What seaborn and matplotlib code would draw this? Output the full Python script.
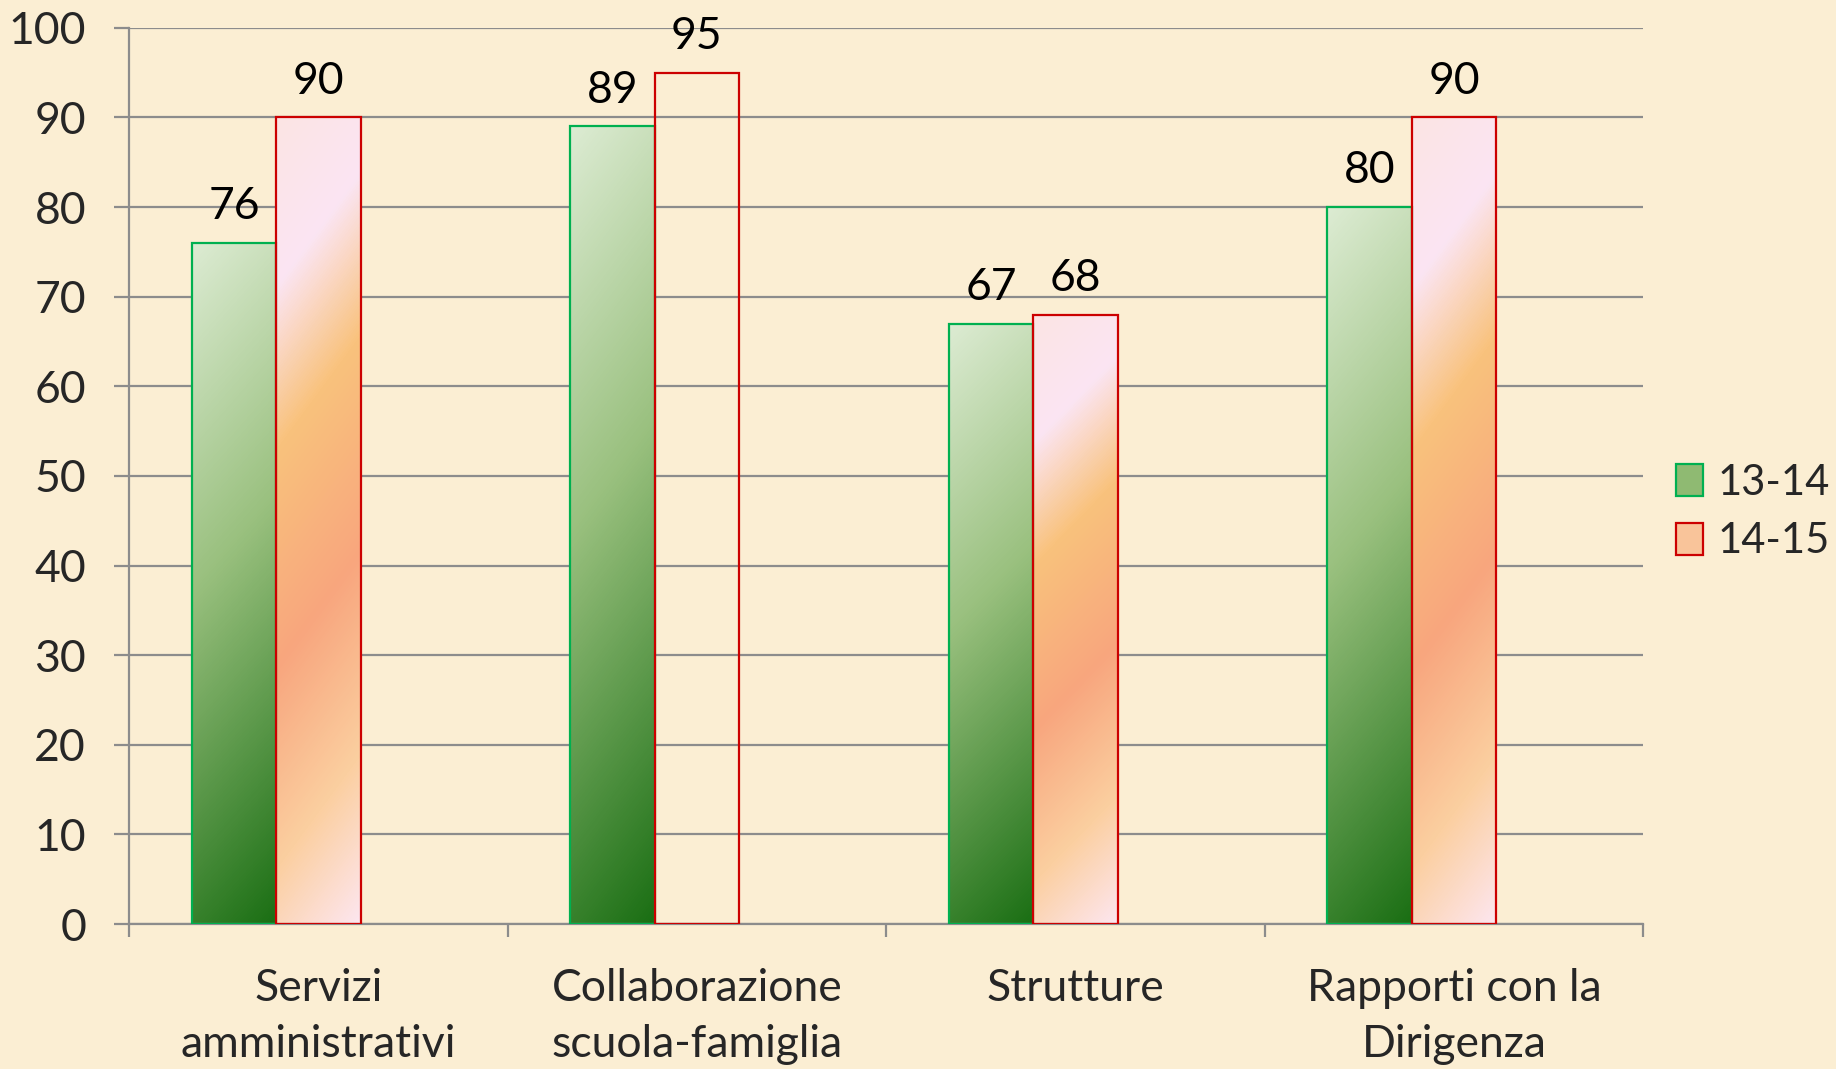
import matplotlib
matplotlib.use("Agg")
import matplotlib.pyplot as plt
from matplotlib.colors import LinearSegmentedColormap
from matplotlib.patches import Patch
import seaborn as sns
import pandas as pd
import numpy as np

categories = ["Servizi\namministrativi", "Collaborazione\nscuola-famiglia",
              "Strutture", "Rapporti con la\nDirigenza"]
years = ["13-14", "14-15"]
values_1314 = [76, 89, 67, 80]
values_1415 = [90, 95, 68, 90]
# the 95 bar in the original has no fill, only the red outline
filled_1415 = [True, False, True, True]

df = pd.DataFrame({
    "Area": categories * 2,
    "Anno": [years[0]] * 4 + [years[1]] * 4,
    "Valore": values_1314 + values_1415,
})

sns.set_theme(style="white")
plt.rcParams["font.family"] = ["Lato", "DejaVu Sans"]
fs = 32

bg = "#fbeed3"
grid_col = "#8c8c8c"
fig = plt.figure(figsize=(18.36, 10.69), dpi=100, facecolor=bg)
ax = fig.add_axes([0.0703, 0.1356, 0.8247, 0.8384])
ax.set_facecolor(bg)

# original chart keeps an empty third series slot, so the pair sits left of centre
sns.barplot(data=df, x="Area", y="Valore", hue="Anno", hue_order=years + ["-"],
            palette=["#8fba72", "#f9c49a", "#ffffff"],
            width=0.669, gap=0, saturation=1, legend=False, ax=ax)

green_cmap = LinearSegmentedColormap.from_list(
    "g", [(0, "#dcebd2"), (0.45, "#99c07e"), (1, "#1b6f14")])
red_cmap = LinearSegmentedColormap.from_list(
    "r", [(0, "#fbe4e4"), (0.18, "#fbe5f3"), (0.36, "#f9c27c"), (0.6, "#f8a67e"),
          (0.82, "#fbcfa0"), (1, "#fde6ee")])

yy, xx = np.mgrid[0:1:200j, 0:1:20j]
grad = np.clip(0.88 * yy + 0.12 * xx, 0, 1)

for cont, cmap, edge, fills in [(ax.containers[0], green_cmap, "#00b050", [True] * 4),
                                (ax.containers[1], red_cmap, "#cc0000", filled_1415)]:
    for bar, fill in zip(cont, fills):
        bar.set_facecolor("none")
        bar.set_edgecolor(edge)
        bar.set_linewidth(1.6)
        bar.set_zorder(3)
        if not fill:
            continue
        x0, y0 = bar.get_x(), bar.get_y()
        w, h = bar.get_width(), bar.get_height()
        im = ax.imshow(grad, cmap=cmap, extent=[x0, x0 + w, y0, y0 + h],
                       aspect="auto", zorder=2, interpolation="bilinear")
        im.set_clip_path(bar)

for cont, vals in zip(ax.containers[:2], [values_1314, values_1415]):
    for bar, v in zip(cont, vals):
        ax.annotate(str(v), (bar.get_x() + bar.get_width() / 2, bar.get_height()),
                    xytext=(0, 26), textcoords="offset points",
                    ha="center", va="center", fontsize=fs, color="black")

ax.set_xlim(-0.5, 3.5)
ax.set_ylim(0, 100)
ax.set_yticks(range(0, 101, 10))
ax.yaxis.grid(True, color=grid_col, linewidth=1.6)
ax.set_axisbelow(True)
ax.set_xlabel("")
ax.set_ylabel("")

for s in ["top", "right"]:
    ax.spines[s].set_visible(False)
for s in ["left", "bottom"]:
    ax.spines[s].set_color(grid_col)
    ax.spines[s].set_linewidth(1.6)

ax.tick_params(axis="y", length=11, width=1.6, color=grid_col, labelsize=fs, pad=20, left=True)
ax.set_xticks(np.arange(-0.5, 4, 1), minor=True)
ax.tick_params(axis="x", which="minor", length=9, width=1.6, color=grid_col, bottom=True)
ax.tick_params(axis="x", which="major", length=0, labelsize=fs, pad=32)
for lab in ax.get_xticklabels():
    lab.set_linespacing(1.45)

handles = [Patch(facecolor="#8fba72", edgecolor="#00b050", linewidth=1.6, label=years[0]),
           Patch(facecolor="#f9c49a", edgecolor="#cc0000", linewidth=1.6, label=years[1])]
fig.legend(handles=handles, loc="center left", bbox_to_anchor=(1638 / 1836, 1 - 512 / 1069),
           frameon=False, fontsize=30, handlelength=0.65, handleheight=0.8,
           handletextpad=0.35, labelspacing=0.5)

fig.savefig("out.png", dpi=100, facecolor=bg)
